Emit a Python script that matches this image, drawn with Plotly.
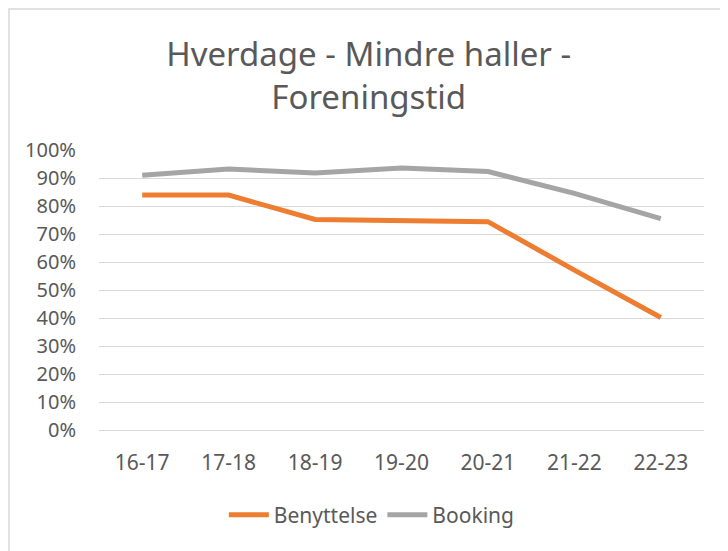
import plotly.graph_objects as go

categories = ["16-17", "17-18", "18-19", "19-20", "20-21", "21-22", "22-23"]
benyttelse = [0.839, 0.839, 0.752, 0.746, 0.744, 0.571, 0.402]
booking = [0.910, 0.932, 0.918, 0.936, 0.923, 0.845, 0.755]
y_ticks = [i / 10 for i in range(11)]
y_ticklabels = [f"{i*10}%" for i in range(11)]

# page has an 8px body margin, so the figure is 8px smaller than the window
W, H = 720, 543
L, R, T, B = 91, 24, 142, 121

fig = go.Figure()
fig.add_trace(go.Scatter(x=categories, y=benyttelse, mode="lines", name="Benyttelse",
                         line=dict(color="#ED7D31", width=5)))
fig.add_trace(go.Scatter(x=categories, y=booking, mode="lines", name="Booking",
                         line=dict(color="#A5A5A5", width=5)))

pw = W - L - R
ph = H - T - B
fig.add_shape(type="rect", xref="paper", yref="paper",
              x0=(1 - L) / pw, x1=(W + 10 - L) / pw,
              y0=(H - B - H - 10) / ph, y1=(H - B - 1) / ph,
              line=dict(color="#D9D9D9", width=1.5), fillcolor="rgba(0,0,0,0)", layer="below")

fig.update_layout(
    width=W, height=H,
    margin=dict(l=L, r=R, t=T, b=B, autoexpand=False),
    paper_bgcolor="white", plot_bgcolor="white",
    font=dict(family="Noto Sans", color="#595959", size=20),
    title=dict(text="Hverdage - Mindre haller -<br>Foreningstid", x=0.501, xanchor="center",
               y=1 - 58 / H, yanchor="middle",
               font=dict(size=33, color="#595959", family="Noto Sans")),
    showlegend=True,
    legend=dict(orientation="h", x=0.451, xanchor="center", y=(422 - 507) / 280, yanchor="middle",
                font=dict(size=21, color="#595959"), itemwidth=40),
    xaxis=dict(type="category", range=[-0.5, 6.5], showgrid=False, showline=True,
               linecolor="#D9D9D9", linewidth=1, automargin=False,
               ticks="", tickfont=dict(size=21, color="#595959"), ticklabelstandoff=14),
    yaxis=dict(range=[0, 1.0], tickvals=y_ticks, ticktext=y_ticklabels, showgrid=True,
               gridcolor="#D9D9D9", gridwidth=1, zeroline=False, showline=False, automargin=False,
               tickfont=dict(size=20, color="#595959"), ticklabelstandoff=22),
)

fig.write_html("out.html")
